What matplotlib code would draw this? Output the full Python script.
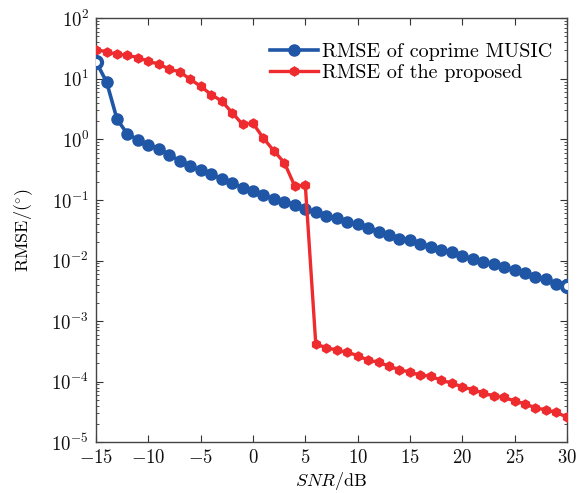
import matplotlib
matplotlib.use("Agg")
import matplotlib.pyplot as plt
import numpy as np

# SNR axis (dB)
snr = np.arange(-15, 31)

# RMSE of coprime MUSIC
rmse_music = [19, 8.9, 2.15, 1.22, 0.99, 0.82, 0.70, 0.56, 0.44, 0.36,
              0.31, 0.27, 0.22, 0.19, 0.16, 0.14, 0.12, 0.103, 0.094, 0.083,
              0.070, 0.063, 0.055, 0.050, 0.044, 0.040, 0.035, 0.030, 0.026, 0.023,
              0.022, 0.019, 0.017, 0.0152, 0.0137, 0.0121, 0.0106, 0.0096, 0.0087, 0.0077,
              0.0069, 0.0062, 0.0054, 0.0050, 0.0041, 0.0038]

# RMSE of the proposed method
rmse_prop = [30.4, 27.8, 25.5, 24.5, 22.4, 19.5, 17.4, 14.5, 13.0, 9.85,
             7.5, 5.5, 4.3, 2.76, 1.77, 1.84, 1.04, 0.645, 0.41, 0.168,
             0.175, 4.15e-4, 3.66e-4, 3.30e-4, 3.06e-4, 2.7e-4, 2.26e-4, 2.1e-4, 1.8e-4, 1.58e-4,
             1.43e-4, 1.28e-4, 1.23e-4, 1.05e-4, 9.5e-5, 8.2e-5, 7.4e-5, 6.5e-5, 5.8e-5, 5.5e-5,
             4.8e-5, 4.3e-5, 3.7e-5, 3.4e-5, 3.1e-5, 2.6e-5]

labels = ["RMSE of coprime MUSIC", "RMSE of the proposed"]

plt.rcParams['font.family'] = 'serif'
plt.rcParams['font.serif'] = ['cmr10', 'DejaVu Serif']
plt.rcParams['mathtext.fontset'] = 'cm'
plt.rcParams['axes.formatter.use_mathtext'] = True
plt.rcParams['axes.unicode_minus'] = True

fig = plt.figure(figsize=(5.79, 4.93), dpi=100)
ax = fig.add_axes([0.166, 0.103, 0.813, 0.86])

blue = '#2056a6'
red = '#ee2b2e'

ax.plot(snr, rmse_music, color=blue, lw=2.6, marker='o', ms=8,
        mec=blue, mfc=blue, label=labels[0], zorder=3)
ax.plot(snr, rmse_prop, color=red, lw=2.4, marker='h', ms=6.5,
        mec=red, mfc=red, label=labels[1], zorder=4)
# end markers of the MUSIC curve are drawn hollow in the original
ax.plot([snr[0], snr[-1]], [rmse_music[0], rmse_music[-1]], ls='none',
        marker='o', ms=8, mfc='white', mec=blue, mew=3.0, zorder=5)

ax.set_yscale('log')
ax.set_xlim(-15, 30)
ax.set_ylim(1e-5, 1e2)
ax.set_xticks(np.arange(-15, 31, 5))
ax.set_yticks([10.0 ** k for k in range(-5, 3)])

ax.tick_params(which='both', direction='in', top=True, right=True,
               labelsize=13.5, colors='#333333', labelcolor='#111111', pad=5)
ax.tick_params(which='major', length=5)
ax.tick_params(which='minor', length=2.5)
for s in ax.spines.values():
    s.set_color('#444444')
    s.set_linewidth(1.0)

ax.set_xlabel('$SNR$/dB', fontsize=13, labelpad=2)
ax.set_ylabel(r'RMSE/$(^{\circ})$', fontsize=13, labelpad=12)

leg = ax.legend(loc='upper right', frameon=False, fontsize=14.5,
                handlelength=2.4, handletextpad=0.2, labelspacing=0.15,
                borderaxespad=0.3, bbox_to_anchor=(1.0, 0.975))

fig.savefig('out.png', dpi=100)
